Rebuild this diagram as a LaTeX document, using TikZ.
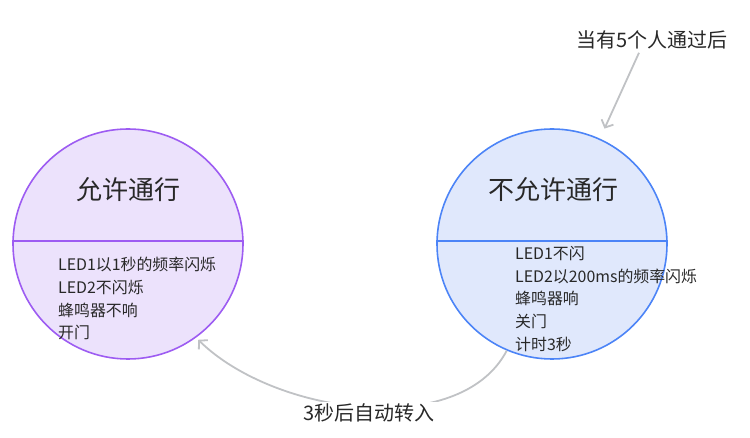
\documentclass[tikz,border=0pt]{standalone}
\usepackage{fontspec}
\setmainfont{Noto Sans CJK SC}
\usetikzlibrary{arrows.meta}
\definecolor{txt}{RGB}{40,40,40}
\definecolor{lfill}{RGB}{236,226,252}
\definecolor{lline}{RGB}{157,92,242}
\definecolor{rfill}{RGB}{224,232,252}
\definecolor{rline}{RGB}{76,132,247}
\definecolor{conn}{RGB}{192,194,197}
\tikzset{
  statecircle/.style={circle, minimum size=230pt, inner sep=0pt, line width=1.6pt},
  titletext/.style={text=txt, font=\fontsize{26}{30}\selectfont},
  bodytext/.style={text=txt, font=\fontsize{15.9}{22.7}\selectfont, align=left, inner sep=0pt, anchor=north west},
  labeltext/.style={text=txt, font=\fontsize{20}{24}\selectfont},
  connline/.style={draw=conn, line width=1.8pt, -{Straight Barb[length=6pt,width=13pt,line width=1.8pt]}}
}
\begin{document}
\begin{tikzpicture}[x=1pt,y=-1pt]
\useasboundingbox (0,0) rectangle (750,438);
\node[statecircle, draw=lline, fill=lfill] (L) at (128,244) {};
\node[statecircle, draw=rline, fill=rfill] (R) at (552,244) {};
\draw[lline, line width=1.6pt] ([yshift=3pt]L.west) -- ([yshift=3pt]L.east);
\draw[rline, line width=1.6pt] ([yshift=3pt]R.west) -- ([yshift=3pt]R.east);
\node[titletext] (LT) at (128,190) {允许通行};
\node[titletext] (RT) at (553,190) {不允许通行};
\node[bodytext] (LB) at (58,257) {LED1以1秒的频率闪烁\\LED2不闪烁\\蜂鸣器不响\\开门};
\node[bodytext] (RB) at (515,246) {LED1不闪\\LED2以200ms的频率闪烁\\蜂鸣器响\\关门\\计时3秒};
\node[labeltext] (top) at (652,40) {当有5个人通过后};
\draw[connline, shorten >=11pt] ([xshift=-13pt]top.south) -- (R);
\draw[connline, shorten >=3pt] (R.-113) .. controls (460,440) and (275,415) .. (L.-54);
\node[labeltext, fill=white, inner xsep=9pt, inner ysep=2pt] (bot) at (369,413) {3秒后自动转入};
\end{tikzpicture}
\end{document}
